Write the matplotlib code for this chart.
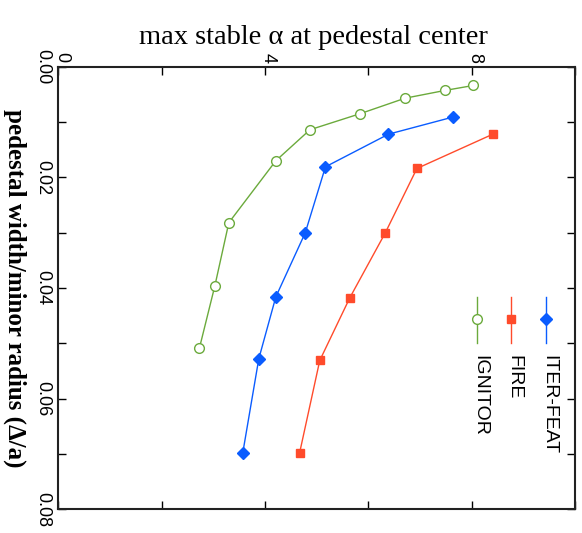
import matplotlib.pyplot as plt
from matplotlib.ticker import MultipleLocator, FixedLocator
from matplotlib.transforms import ScaledTranslation

# data: alpha (max stable) vs pedestal width / minor radius
iter_width = [0.0091, 0.0122, 0.0181, 0.0300, 0.0416, 0.0528, 0.0698]
iter_alpha = [7.64, 6.39, 5.17, 4.78, 4.21, 3.88, 3.57]

fire_width = [0.0122, 0.0184, 0.0300, 0.0418, 0.0531, 0.0698]
fire_alpha = [8.41, 6.94, 6.33, 5.64, 5.06, 4.67]

ignitor_width = [0.0034, 0.0043, 0.0057, 0.0085, 0.0114, 0.0170, 0.0282, 0.0396, 0.0509]
ignitor_alpha = [8.03, 7.48, 6.71, 5.84, 4.87, 4.21, 3.30, 3.03, 2.73]

names = ['ITER-FEAT', 'FIRE', 'IGNITOR']
colors = ['#0A5CFF', '#FF4B2B', '#6BAA3C']

alpha_ticks = [0, 4, 8]
width_ticks = [0.00, 0.02, 0.04, 0.06, 0.08]

fig = plt.figure(figsize=(5.82, 5.33), dpi=100)
ax = fig.add_axes([0.1002, 0.0445, 0.8878, 0.8304])

# chart is drawn turned a quarter clockwise: alpha runs left->right, width top->bottom
ax.plot(iter_alpha, iter_width, '-D', color=colors[0], lw=1.0, ms=6)
ax.plot(fire_alpha, fire_width, '-s', color=colors[1], lw=1.0, ms=5.5)
ax.plot(ignitor_alpha, ignitor_width, '-o', color=colors[2], lw=1.0, ms=7,
        mfc='white', mew=1.0)

ax.set_xlim(0, 10)
ax.set_ylim(0.08, 0.0)

ax.xaxis.tick_top()
ax.xaxis.set_major_locator(FixedLocator(alpha_ticks))
ax.xaxis.set_minor_locator(MultipleLocator(2))
ax.yaxis.set_major_locator(FixedLocator(width_ticks))
ax.yaxis.set_minor_locator(MultipleLocator(0.01))
ax.set_xticklabels([str(t) for t in alpha_ticks], rotation=-90,
                   family='Liberation Sans', fontsize=13)
ax.set_yticklabels(['%.2f' % t for t in width_ticks], rotation=-90,
                   family='Liberation Sans', fontsize=13, va='center')
ax.tick_params(which='both', direction='in', length=6, width=1.0,
               top=True, bottom=True, left=True, right=True)
ax.tick_params(axis='x', pad=3)
ax.tick_params(axis='y', pad=5)

# nudge the top labels a little to the right, as in the original
shift = ScaledTranslation(3 / 100, 0, fig.dpi_scale_trans)
for lbl in ax.get_xticklabels():
    lbl.set_transform(lbl.get_transform() + shift)

for s in ax.spines.values():
    s.set_linewidth(1.5)
    s.set_color('#222222')

fig.text(0.538, 1 - 37 / 533, 'max stable \u03b1 at pedestal center',
         family='Liberation Serif', fontsize=20.5, ha='center', va='center')
fig.text(15 / 582, 1 - 288 / 533, 'pedestal width/minor radius (\u0394/a)',
         family='Liberation Serif', fontsize=18, fontweight='bold',
         rotation=-90, ha='center', va='center')

# legend, drawn rotated like the rest
leg_x = [0.944, 0.876, 0.810]
markers = ['D', 's', 'o']
msizes = [6, 5.5, 7]
for x, name, c, m, ms in zip(leg_x, names, colors, markers, msizes):
    ax.plot([x, x], [0.376, 0.480], color=c, lw=1.0, transform=ax.transAxes,
            clip_on=False)
    ax.plot([x], [0.430], marker=m, color=c, ms=ms, transform=ax.transAxes,
            mfc='white' if m == 'o' else c, clip_on=False)
    ax.text(x + 0.006, 0.349, name, transform=ax.transAxes, rotation=-90,
            ha='center', va='top', family='Liberation Sans', fontsize=14)

fig.savefig('out.png', dpi=100)
